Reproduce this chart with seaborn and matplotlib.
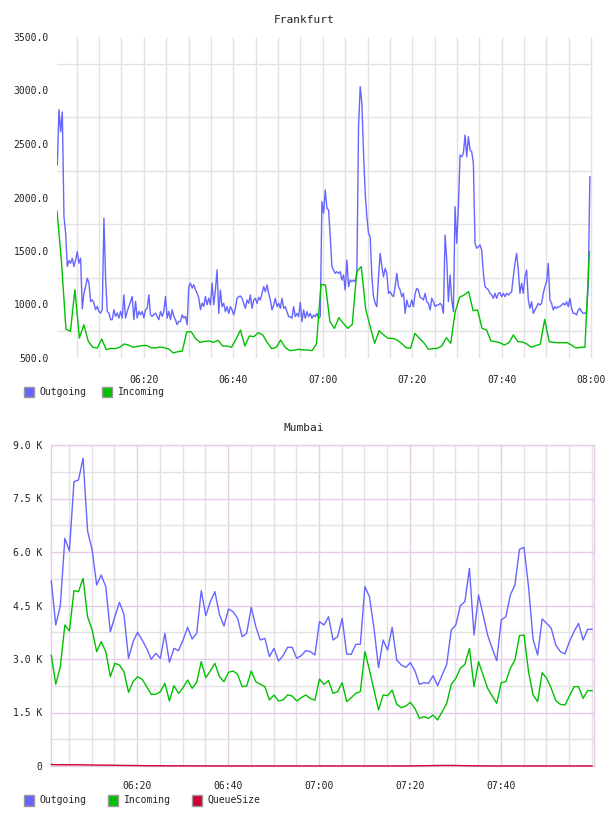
import numpy as np
import pandas as pd
import matplotlib
matplotlib.use("Agg")
import matplotlib.pyplot as plt
from matplotlib.patches import Rectangle
import seaborn as sns

# ------------------------------------------------------------
# Data (minutes after 06:00)
# ------------------------------------------------------------
fra_outgoing = [
    2303, 2822, 2614, 2800, 1821, 1666, 1355, 1410, 1386, 1433,
    1355, 1417, 1495, 1386, 1433, 960, 1106, 1168, 1246, 1200,
    1028, 1044, 1013, 951, 982, 935, 920, 951, 1806, 1250,
    935, 920, 858, 858, 951, 889, 920, 873, 935, 873,
    1090, 873, 935, 982, 1028, 1075, 858, 1028, 873, 935,
    904, 935, 873, 951, 966, 1090, 904, 889, 904, 920,
    889, 858, 935, 889, 935, 1075, 873, 935, 858, 951,
    889, 858, 811, 842, 842, 904, 873, 889, 811, 1168,
    1200, 1153, 1184, 1137, 1106, 1060, 951, 1013, 982, 1075,
    997, 1060, 997, 1200, 997, 1137, 1324,
    917, 1135, 980, 1011, 933, 980, 917, 980, 949, 902,
    964, 1058, 1073, 1079, 1058, 1011, 964, 1042, 1011, 1089,
    964, 1042, 1058, 1011, 1067, 1042, 1104, 1167, 1120, 1182,
    1104, 1042, 949, 995, 1058, 980, 1011, 964, 1058, 964,
    980, 933, 886, 886, 871, 980, 886, 917, 886, 1020,
    840, 949, 871, 933, 886, 917, 871, 902, 886, 917,
    871, 886, 1961, 1852, 2070, 1899, 1883, 1634, 1354, 1322,
    1291, 1307, 1291, 1307, 1229, 1276, 1135, 1416, 1167, 1229,
    1213, 1229, 1213, 1291, 2662, 3036, 2880, 2413, 2039, 1821,
    1665, 1634, 1260, 1073, 1011, 980, 1260, 1478, 1354, 1260,
    1338, 1291, 1104, 1120, 1089, 1073, 1167, 1291, 1167, 1135,
    1073, 1104, 917, 1042, 980, 980, 1042, 980, 1104, 1151,
    1135,
    1067, 1058, 1042, 1104, 1026, 1011, 949, 1058, 1026, 980,
    995, 995, 1011, 995, 917, 1649, 1416, 1026, 1276, 1042,
    933, 1914, 1572, 1914, 2397, 2381, 2413, 2584, 2381, 2568,
    2444, 2428, 2319, 1572, 1525, 1540, 1556, 1509, 1291, 1167,
    1151, 1135, 1104, 1089, 1058, 1104, 1058, 1104, 1111, 1073,
    1104, 1073, 1104, 1089, 1104, 1120, 1260, 1385, 1478, 1322,
    1104, 1198, 1104, 1260, 1322, 1042, 964, 1026, 917, 949,
    980, 1011, 995, 1011, 1104, 1167, 1213, 1385, 1042, 1011,
    949, 980, 964, 980, 980, 995, 1011, 995, 1026, 980,
    1058, 964, 917, 917, 902, 949, 964, 933, 917, 917,
    933, 1167, 2195,
]
fra_incoming = [
    1877, 1400, 770, 749, 1137, 687, 811, 655, 600, 593,
    677, 578, 590, 587, 600, 631, 621, 600, 609, 615,
    618, 596, 593, 603, 596, 584, 547, 559, 565, 743,
    746, 680, 646, 655, 659, 646, 665,
    612, 612, 600, 674, 762, 612, 706, 699, 737, 715,
    643, 587, 600, 668, 600, 569, 572, 581, 575, 575,
    569, 631, 1188, 1182, 840, 777, 877, 824, 777, 815,
    1307, 1354, 955, 793, 637, 755, 715, 684, 684, 668,
    637, 597, 590, 730, 684,
    643, 581, 587, 590, 612, 690, 637, 933, 1067, 1089,
    1120, 942, 949, 777, 762, 659, 653, 643, 621, 643,
    715, 653, 650, 631, 600, 615, 628, 861, 653, 646,
    643, 643, 643, 621, 593, 600, 600, 1494,
]

mum_outgoing = [
    5196, 3953, 4495, 6383, 6028, 7972, 8019, 8626, 6589, 6056,
    5075, 5355, 5028, 3766, 4187, 4589, 4252, 3019, 3486, 3748,
    3533, 3299, 2991, 3159, 3019, 3720, 2907, 3299, 3234, 3533,
    3888, 3561, 3720, 4916, 4215, 4608, 4888, 4252,
    3925, 4402, 4327, 4140, 3626, 3720, 4449, 3907, 3533, 3580,
    3065, 3299, 2944, 3094, 3327, 3327, 3019, 3094, 3234, 3206,
    3112, 4047, 3953, 4187, 3533, 3626, 4140, 3140, 3131, 3411,
    3411, 5028, 4748, 3860, 2757, 3533, 3252, 3888, 2972, 2832,
    2766, 2897, 2673, 2290,
    2337, 2318, 2533, 2252, 2552, 2851, 3813, 3953, 4495, 4608,
    5542, 3673, 4795, 4234, 3673, 3299, 2953, 4093, 4187, 4795,
    5075, 6075, 6131, 5028, 3551, 3112, 4121, 4000, 3860, 3393,
    3206, 3140, 3486, 3766, 4000, 3533, 3832, 3832,
]
mum_incoming = [
    3112, 2290, 2785, 3953, 3785, 4916, 4888, 5262, 4187, 3813,
    3206, 3486, 3206, 2505, 2879, 2832, 2645, 2065, 2365, 2505,
    2430, 2224, 2009, 2009, 2084, 2318, 1822, 2252, 2037, 2196,
    2411, 2178, 2346, 2926, 2477, 2664, 2879, 2505,
    2365, 2626, 2664, 2570, 2224, 2243, 2664, 2365, 2290, 2224,
    1851, 1991, 1822, 1851, 1991, 1963, 1822, 1916, 1991, 1897,
    1841, 2439, 2290, 2393, 2037, 2084, 2336, 1804, 1916, 2037,
    2084, 3206, 2692, 2131, 1570, 1991, 1972, 2131, 1729, 1636,
    1682, 1785, 1617, 1336,
    1383, 1336, 1430, 1290, 1523, 1757, 2290, 2458, 2738, 2851,
    3299, 2224, 2926, 2551, 2178, 1963, 1757, 2337, 2365, 2738,
    2972, 3654, 3673, 2645, 1991, 1804, 2617, 2458, 2178, 1832,
    1729, 1710, 1963, 2224, 2224, 1897, 2112, 2112,
]
mum_queue = [
    40, 38, 35, 36, 34, 33, 35, 32, 30, 28,
    26, 25, 24, 22, 20, 18, 16, 15, 14, 12,
    10, 9, 8, 8, 7, 6, 6, 5, 5, 4,
    4, 3, 3, 3, 2, 2, 2, 2, 2, 2,
    2, 2, 2, 2, 2, 2, 2, 2, 2, 2,
    2, 2, 2, 2, 2, 2, 2, 2, 2, 2,
    2, 2, 2, 2, 2, 2, 2, 2, 2, 2,
    2, 2, 2, 2, 2, 2, 2, 2, 2, 2,
    4, 6, 8, 10, 12, 14, 15, 16, 15, 14,
    12, 10, 8, 6, 4, 3, 2, 2, 2, 2,
    2, 2, 2, 2, 2, 2, 2, 2, 2, 2,
    2, 2, 2, 2, 2, 2, 2, 2, 2, 2,
]

time_ticks = [20, 40, 60, 80, 100, 120]
time_labels = ["06:20", "06:40", "07:00", "07:20", "07:40", "08:00"]
fra_yticks = [500, 1000, 1500, 2000, 2500, 3000, 3500]
fra_ylabels = ["500.0", "1000.0", "1500.0", "2000.0", "2500.0", "3000.0", "3500.0"]
mum_yticks = [0, 1500, 3000, 4500, 6000, 7500, 9000]
mum_ylabels = ["0", "1.5 K", "3.0 K", "4.5 K", "6.0 K", "7.5 K", "9.0 K"]

colors = {"Outgoing": "#6666ff", "Incoming": "#00c000", "QueueSize": "#cc0033"}

# regular sampling times
fra_out_t = np.linspace(0.67, 119.7, len(fra_outgoing))
fra_in_t = 0.6 + np.arange(len(fra_incoming))
mum_t = 1.1 + np.arange(len(mum_outgoing))

fra_df = pd.concat([
    pd.DataFrame({"minute": fra_out_t, "value": fra_outgoing, "series": "Outgoing"}),
    pd.DataFrame({"minute": fra_in_t, "value": fra_incoming, "series": "Incoming"}),
])
mum_df = pd.concat([
    pd.DataFrame({"minute": mum_t, "value": mum_outgoing, "series": "Outgoing"}),
    pd.DataFrame({"minute": mum_t, "value": mum_incoming, "series": "Incoming"}),
    pd.DataFrame({"minute": mum_t, "value": mum_queue, "series": "QueueSize"}),
])

# ------------------------------------------------------------
# Figure
# ------------------------------------------------------------
sns.set_style("white")
plt.rcParams["font.family"] = ["DejaVu Sans Mono", "DejaVu Sans"]
plt.rcParams["font.size"] = 7

W, H = 608, 816
fig = plt.figure(figsize=(W / 100, H / 100), dpi=100)


def fx(px):
    return px / W


def fy(py):
    return 1 - py / H


# ---------------- Frankfurt ----------------
ax1 = fig.add_axes([fx(57), fy(358), fx(536), 321 / H])
sns.lineplot(data=fra_df, x="minute", y="value", hue="series", palette=colors,
             estimator=None, sort=False, legend=False, linewidth=1.0, ax=ax1)
ax1.set_xlim(0.6, 120.4)
ax1.set_ylim(500, 3500)
ax1.set_xticks(time_ticks)
ax1.set_xticklabels(time_labels)
ax1.set_xticks(np.arange(5, 121, 5), minor=True)
ax1.set_yticks(fra_yticks)
ax1.set_yticklabels(fra_ylabels)
ax1.set_yticks(np.arange(750, 3500, 500), minor=True)
ax1.grid(False)
ax1.grid(which="both", axis="x", color="#e2e2e2", linewidth=1)
ax1.grid(which="minor", axis="y", color="#e2e2e2", linewidth=1)
ax1.set_axisbelow(True)
for s in ax1.spines.values():
    s.set_visible(False)
ax1.tick_params(which="both", length=0, colors="#222222", labelsize=7)
ax1.tick_params(axis="y", pad=6)
ax1.tick_params(axis="x", pad=12)
ax1.set_xlabel("")
ax1.set_ylabel("")
fig.text(0.5, fy(20), "Frankfurt", ha="center", va="center", fontsize=8, color="#222222")

# ---------------- Mumbai ----------------
ax2 = fig.add_axes([fx(51), fy(766), fx(543), 321 / H])
sns.lineplot(data=mum_df, x="minute", y="value", hue="series", palette=colors,
             estimator=None, sort=False, legend=False, linewidth=1.0, ax=ax2)
for line in ax2.lines:
    line.set_clip_on(False)
    line.set_zorder(3)
ax2.set_xlim(1.05, 120.5)
ax2.set_ylim(0, 9000)
ax2.set_xticks(time_ticks[:-1])
ax2.set_xticklabels(time_labels[:-1])
ax2.set_xticks(np.arange(5, 121, 5), minor=True)
ax2.set_yticks(mum_yticks)
ax2.set_yticklabels(mum_ylabels)
ax2.set_yticks(np.arange(750, 9000, 1500), minor=True)
ax2.grid(False)
ax2.grid(which="minor", color="#e2e2e2", linewidth=1)
ax2.grid(which="major", color="#e6cce6", linewidth=1)
ax2.set_axisbelow(True)
for s in ax2.spines.values():
    s.set_color("#e6cce6")
    s.set_linewidth(1)
ax2.tick_params(which="both", length=0, colors="#222222", labelsize=7)
ax2.tick_params(axis="y", pad=6)
ax2.tick_params(axis="x", pad=11)
ax2.set_xlabel("")
ax2.set_ylabel("")
fig.text(0.5, fy(428), "Mumbai", ha="center", va="center", fontsize=8, color="#222222")


# ---------------- Legends ----------------
def legend_item(x_box, x_text, y_mid, name):
    fig.patches.append(Rectangle((fx(x_box), fy(y_mid + 5.5)), fx(10), 11 / H,
                                 transform=fig.transFigure, facecolor=colors[name],
                                 edgecolor="#999999", linewidth=1))
    fig.text(fx(x_text), fy(y_mid), name, ha="left", va="center", fontsize=7,
             color="#222222")


legend_item(24, 39, 392, "Outgoing")
legend_item(102, 118, 392, "Incoming")
legend_item(24, 39, 800, "Outgoing")
legend_item(108, 124, 800, "Incoming")
legend_item(192, 207, 800, "QueueSize")

fig.savefig("out.png", dpi=100)
